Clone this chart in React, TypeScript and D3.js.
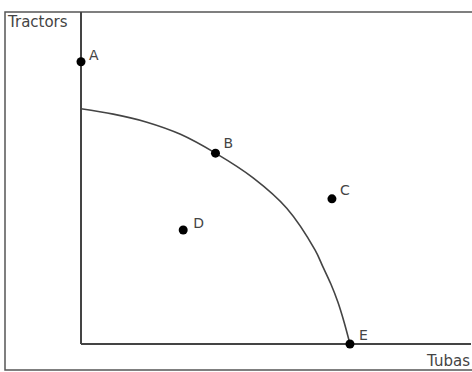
import React, { useEffect, useRef } from "react";
import * as d3 from "d3";

// production possibilities frontier (units: tubas, tractors)
const frontierTubas = [0, 1.2, 2.45, 3.7, 5, 6.4, 7.65, 8.7, 9.0, 9.29, 9.55, 9.78, 10];
const frontierTractors = [8.75, 8.55, 8.25, 7.8, 7.1, 6.18, 5.05, 3.5, 2.86, 2.23, 1.56, 0.82, 0];

const pointNames = ["A", "B", "C", "D", "E"];
const pointTubas = [0, 5, 9.33, 3.8, 10];
const pointTractors = [10.5, 7.1, 5.4, 4.24, 0];
const labelDx = [8, 8, 8, 10, 9];
const labelDy = [-2, -5, -4, -2, -4];

const xLabel = "Tubas";
const yLabel = "Tractors";

const W = 472;
const H = 372;

export default function App() {
  const ref = useRef<SVGSVGElement>(null);

  useEffect(() => {
    const svg = d3.select(ref.current);
    svg.selectAll("*").remove();

    const x = d3.scaleLinear().domain([0, 14.5]).range([81, 471]);
    const y = d3.scaleLinear().domain([0, 12.35]).range([344, 12]);

    svg.append("rect")
      .attr("width", W).attr("height", H).attr("fill", "#fff");

    // outer frame
    svg.append("rect")
      .attr("x", 5).attr("y", 12)
      .attr("width", 475).attr("height", 358)
      .attr("fill", "none")
      .attr("stroke", "#555")
      .attr("stroke-width", 1.5);

    // axes
    svg.append("line")
      .attr("x1", x(0)).attr("x2", x(0))
      .attr("y1", y(0)).attr("y2", y(12.35))
      .attr("stroke", "#444").attr("stroke-width", 2);
    svg.append("line")
      .attr("x1", x(0)).attr("x2", x(14.5))
      .attr("y1", y(0)).attr("y2", y(0))
      .attr("stroke", "#444").attr("stroke-width", 2);

    svg.append("text")
      .attr("x", 8).attr("y", 27)
      .attr("font-family", "DejaVu Sans")
      .attr("font-size", 15)
      .attr("fill", "#444")
      .text(yLabel);
    svg.append("text")
      .attr("x", 470).attr("y", 366)
      .attr("text-anchor", "end")
      .attr("font-family", "DejaVu Sans")
      .attr("font-size", 15)
      .attr("fill", "#444")
      .text(xLabel);

    const line = d3.line<number>()
      .x((d) => x(d))
      .y((d, i) => y(frontierTractors[i]))
      .curve(d3.curveCatmullRom.alpha(0.5));

    svg.append("path")
      .attr("d", line(frontierTubas))
      .attr("fill", "none")
      .attr("stroke", "#444")
      .attr("stroke-width", 1.6);

    const pts = svg.selectAll("g.pt")
      .data(pointNames)
      .enter()
      .append("g")
      .attr("class", "pt");

    pts.append("circle")
      .attr("cx", (d, i) => x(pointTubas[i]))
      .attr("cy", (d, i) => y(pointTractors[i]))
      .attr("r", 4.5)
      .attr("fill", "#000");

    pts.append("text")
      .attr("x", (d, i) => x(pointTubas[i]) + labelDx[i])
      .attr("y", (d, i) => y(pointTractors[i]) + labelDy[i])
      .attr("font-family", "DejaVu Sans")
      .attr("font-size", 14)
      .attr("fill", "#444")
      .text((d) => d);
  }, []);

  return (
    <svg
      ref={ref}
      width={W}
      height={H}
      style={{ position: "absolute", left: 0, top: 0 }}
    />
  );
}
